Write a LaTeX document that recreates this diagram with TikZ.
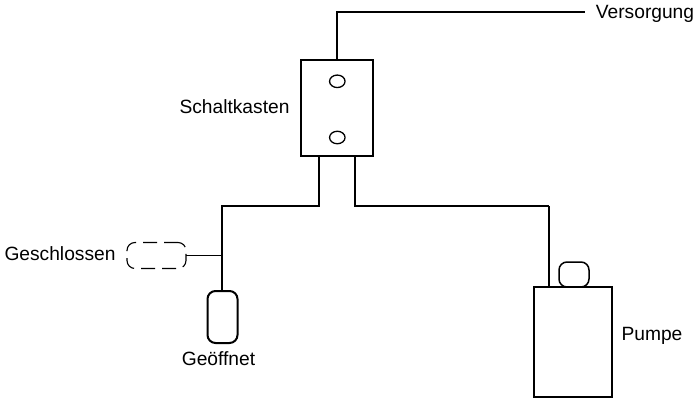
\documentclass[tikz,border=0pt]{standalone}
\usepackage{fontspec}
\setmainfont{Liberation Sans}
\usetikzlibrary{shapes.geometric}
\tikzset{
	leitung/.style={line width=2pt},
	duenn/.style={line width=1.1pt},
	kasten/.style={draw,line width=2pt,inner sep=0pt,outer sep=0pt},
	schwimmer/.style={kasten,rounded corners=8pt},
	kontakt/.style={draw,ellipse,line width=1.3pt,minimum width=15.5pt,minimum height=12.5pt,inner sep=0pt},
	beschriftung/.style={inner sep=0pt,font=\fontsize{19.2}{22}\selectfont},
}
\begin{document}
\begin{tikzpicture}[x=1pt,y=-1pt]
	\useasboundingbox (0,0) rectangle (695,399);
	%switch box
	\node (schaltkasten) at (337,108) [kasten,minimum width=72pt,minimum height=96pt]{};
	\foreach \y/\name in {81.3/oben, 137.5/unten}{
		\node (kontakt\name) at (337.3, \y) [kontakt]{};
	}
	\node (schaltkastentext) at (234.5, 106.5) [beschriftung]{Schaltkasten};
	%supply
	\coordinate (knick) at (337, 12);
	\coordinate (versorgungsende) at (585, 12);
	\node (versorgung) at (645, 14) [beschriftung]{Versorgung};
	\draw[leitung] (schaltkasten.north) -- (knick) -- (versorgungsende);
	%float
	\coordinate (linksoben) at (319, 156);
	\coordinate (linksknick) at (319, 206);
	\coordinate (linksecke) at (222, 206);
	\coordinate (abzweig) at (222, 255.5);
	\node (offen) at (222.5, 317) [schwimmer,minimum width=30pt,minimum height=52pt]{};
	\node (zu) at (156.5, 255.5) [schwimmer,line width=1.1pt,dash pattern=on 14pt off 7pt,minimum width=59pt,minimum height=26pt]{};
	\node (geschlossen) at (60, 254) [beschriftung]{Geschlossen};
	\node (geoeffnet) at (218.5, 359) [beschriftung]{Geöffnet};
	\draw[leitung,line cap=rect] (linksoben) -- (linksknick) -- (linksecke) -- (offen.north -| linksecke);
	\draw[duenn] (zu.east) -- (abzweig);
	%pump
	\coordinate (rechtsoben) at (355, 156);
	\coordinate (rechtsknick) at (355, 206);
	\coordinate (rechtsecke) at (549, 206);
	\node (pumpe) at (573, 342) [kasten,minimum width=78pt,minimum height=110pt]{};
	\node (aufsatz) at (574, 274.5) [schwimmer,line width=1.5pt,minimum width=30pt,minimum height=25pt]{};
	\node (pumpentext) at (652, 336) [beschriftung]{Pumpe};
	\draw[leitung] (rechtsoben) -- (rechtsknick) -- (rechtsecke);
	\draw[duenn] (rechtsecke) -- (rechtsecke |- pumpe.north);
\end{tikzpicture}
\end{document}
